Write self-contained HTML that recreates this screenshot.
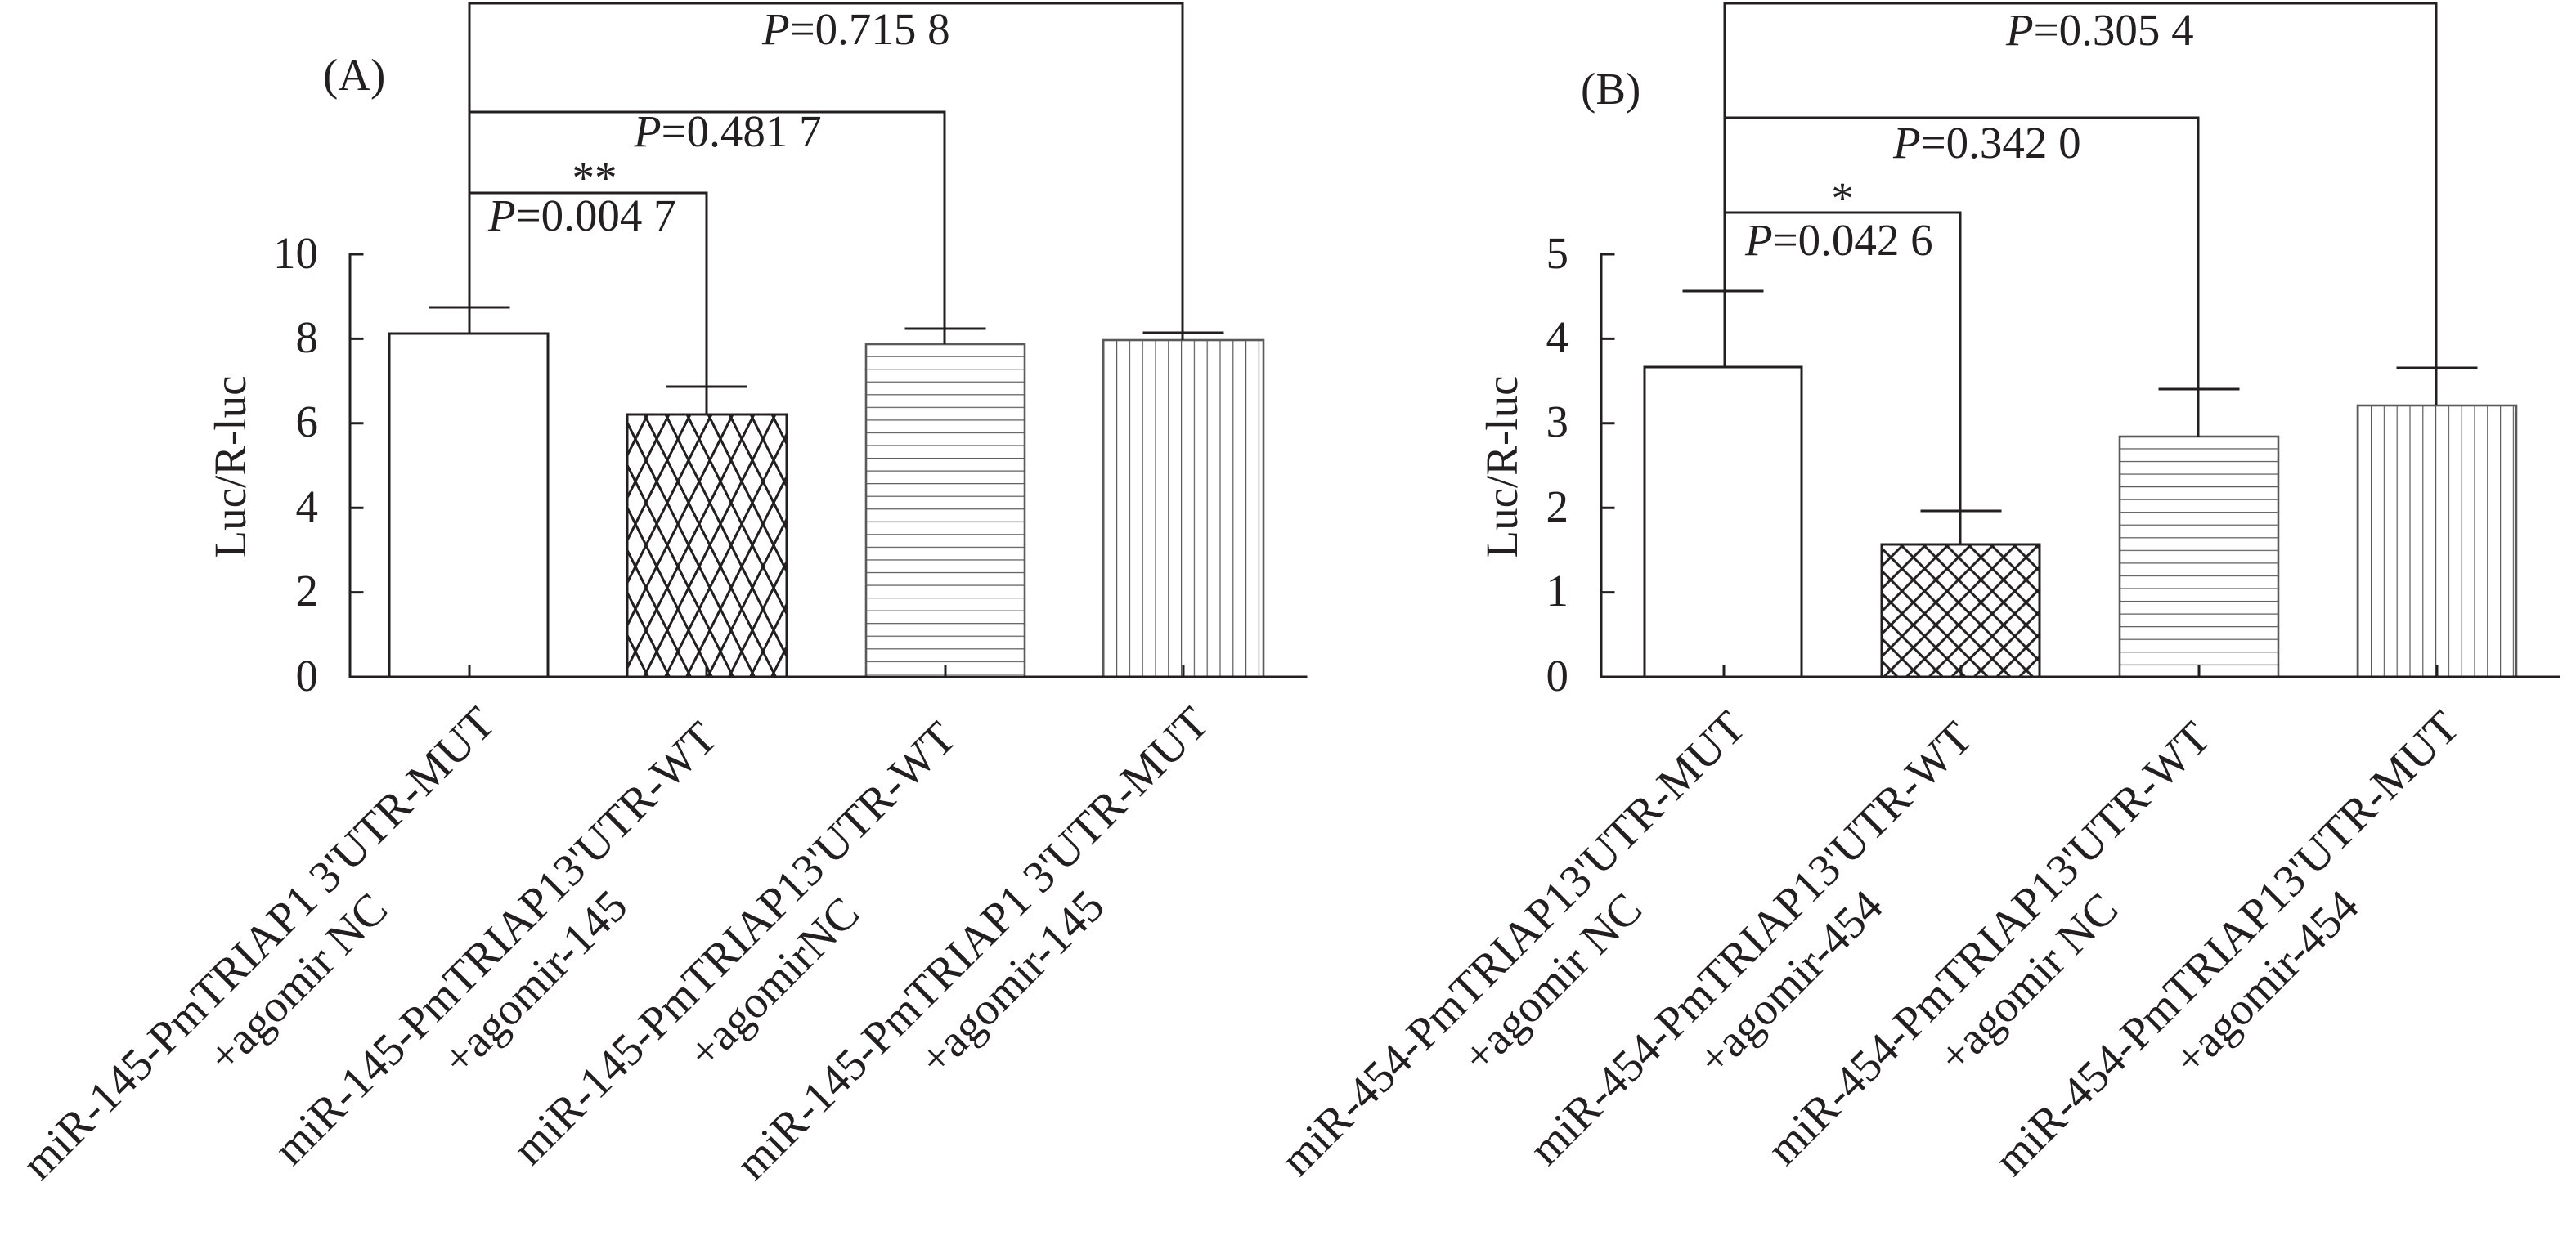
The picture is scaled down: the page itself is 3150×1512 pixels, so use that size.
<!DOCTYPE html>
<html><head><meta charset="utf-8"><style>
html,body{margin:0;padding:0;background:#fff;}
svg{display:block;}
text{font-family:"Liberation Serif","Times New Roman",serif;fill:#231f20;}
</style></head><body>
<svg width="3150" height="1512" viewBox="0 0 3150 1512" xmlns="http://www.w3.org/2000/svg">
<defs>
<pattern id="xa" patternUnits="userSpaceOnUse" x="790" y="563" width="26" height="52">
<path d="M-2,-4 L28,56 M28,-4 L-2,56" stroke="#231f20" stroke-width="3" fill="none"/>
</pattern>
<pattern id="xb" patternUnits="userSpaceOnUse" x="2312" y="681.7" width="27.6" height="27.6">
<path d="M-2,-2 L29.6,29.6 M29.6,-2 L-2,29.6" stroke="#231f20" stroke-width="3" fill="none"/>
</pattern>
<pattern id="ha" patternUnits="userSpaceOnUse" x="0" y="824.3" width="20" height="15.55">
<line x1="-1" y1="0" x2="21" y2="0" stroke="#5a5a5a" stroke-width="2.4"/>
</pattern>
<pattern id="hb" patternUnits="userSpaceOnUse" x="0" y="812.7" width="20" height="15.55">
<line x1="-1" y1="0" x2="21" y2="0" stroke="#5a5a5a" stroke-width="2.4"/>
</pattern>
<pattern id="va" patternUnits="userSpaceOnUse" x="1365" y="0" width="15.8" height="20">
<line x1="0" y1="-1" x2="0" y2="21" stroke="#5a5a5a" stroke-width="2.4"/>
</pattern>
<pattern id="vb" patternUnits="userSpaceOnUse" x="2899" y="0" width="15.8" height="20">
<line x1="0" y1="-1" x2="0" y2="21" stroke="#5a5a5a" stroke-width="2.4"/>
</pattern>
</defs>
<rect x="0" y="0" width="3150" height="1512" fill="#fff"/>

<!-- ================= PANEL A ================= -->
<g stroke="#231f20" stroke-width="3" fill="none">
  <!-- bars -->
  <rect x="476" y="408" width="194" height="420" fill="#fff"/>
  <rect x="767" y="507" width="195" height="321" fill="url(#xa)"/>
</g>
<g stroke="#5a5a5a" stroke-width="2.6">
  <rect x="1059" y="421" width="194" height="407" fill="url(#ha)"/>
  <rect x="1349" y="416" width="196" height="412" fill="url(#va)"/>
</g>
<g stroke="#231f20" stroke-width="3" fill="none" stroke-linecap="square">
  <!-- axes -->
  <line x1="428" y1="311" x2="428" y2="828"/>
  <line x1="428" y1="828" x2="1597" y2="828"/>
  <line x1="428" y1="828" x2="443" y2="828"/>
  <line x1="428" y1="724.6" x2="443" y2="724.6"/>
  <line x1="428" y1="621.2" x2="443" y2="621.2"/>
  <line x1="428" y1="517.8" x2="443" y2="517.8"/>
  <line x1="428" y1="414.4" x2="443" y2="414.4"/>
  <line x1="428" y1="311" x2="443" y2="311"/>
  <!-- x ticks -->
  <line x1="574" y1="815" x2="574" y2="828"/>
  <line x1="864" y1="815" x2="864" y2="828"/>
  <line x1="1156" y1="815" x2="1156" y2="828"/>
  <line x1="1447" y1="815" x2="1447" y2="828"/>
  <!-- error caps -->
  <line x1="526" y1="376" x2="622" y2="376"/>
  <line x1="816" y1="473" x2="912" y2="473"/>
  <line x1="1108" y1="402" x2="1204" y2="402"/>
  <line x1="1399" y1="407" x2="1495" y2="407"/>
  <!-- brackets -->
  <polyline points="574,408 574,4 1446,4 1446,416" stroke-linecap="butt"/>
  <polyline points="574,137 1155,137 1155,421" stroke-linecap="butt"/>
  <polyline points="574,236 864,236 864,507" stroke-linecap="butt"/>
</g>
<g font-size="55">
  <text x="389" y="845" text-anchor="end">0</text>
  <text x="389" y="741" text-anchor="end">2</text>
  <text x="389" y="638" text-anchor="end">4</text>
  <text x="389" y="534" text-anchor="end">6</text>
  <text x="389" y="431" text-anchor="end">8</text>
  <text x="389" y="328" text-anchor="end">10</text>
  <text transform="translate(300,571) rotate(-90)" text-anchor="middle">Luc/R-luc</text>
  <text x="395" y="110">(A)</text>
  <text x="932" y="54"><tspan font-style="italic">P</tspan>=0.715 8</text>
  <text x="775" y="179"><tspan font-style="italic">P</tspan>=0.481 7</text>
  <text x="597" y="282"><tspan font-style="italic">P</tspan>=0.004 7</text>
  <text x="727" y="236" text-anchor="middle">**</text>
</g>
<g font-size="56" text-anchor="middle">
  <g transform="translate(329,1167) rotate(-45)"><text x="0" y="0">miR-145-PmTRIAP1 3'UTR-MUT</text><text x="0" y="68">+agomir NC</text></g>
  <g transform="translate(619,1167) rotate(-45)"><text x="0" y="0">miR-145-PmTRIAP13'UTR-WT</text><text x="0" y="68">+agomir-145</text></g>
  <g transform="translate(911,1167) rotate(-45)"><text x="0" y="0">miR-145-PmTRIAP13'UTR-WT</text><text x="0" y="68">+agomirNC</text></g>
  <g transform="translate(1202,1167) rotate(-45)"><text x="0" y="0">miR-145-PmTRIAP1 3'UTR-MUT</text><text x="0" y="68">+agomir-145</text></g>
</g>

<!-- ================= PANEL B ================= -->
<g stroke="#231f20" stroke-width="3" fill="none">
  <rect x="2011" y="449" width="192" height="379" fill="#fff"/>
  <rect x="2301" y="666" width="193" height="162" fill="url(#xb)"/>
</g>
<g stroke="#5a5a5a" stroke-width="2.6">
  <rect x="2592" y="534" width="194" height="294" fill="url(#hb)"/>
  <rect x="2883" y="496" width="194" height="332" fill="url(#vb)"/>
</g>
<g stroke="#231f20" stroke-width="3" fill="none" stroke-linecap="square">
  <line x1="1958" y1="311" x2="1958" y2="828"/>
  <line x1="1958" y1="828" x2="3129" y2="828"/>
  <line x1="1958" y1="724.6" x2="1973" y2="724.6"/>
  <line x1="1958" y1="621.2" x2="1973" y2="621.2"/>
  <line x1="1958" y1="517.8" x2="1973" y2="517.8"/>
  <line x1="1958" y1="414.4" x2="1973" y2="414.4"/>
  <line x1="1958" y1="311" x2="1973" y2="311"/>
  <line x1="2108" y1="815" x2="2108" y2="828"/>
  <line x1="2398" y1="815" x2="2398" y2="828"/>
  <line x1="2689" y1="815" x2="2689" y2="828"/>
  <line x1="2980" y1="815" x2="2980" y2="828"/>
  <line x1="2059" y1="356" x2="2155" y2="356"/>
  <line x1="2350" y1="625" x2="2446" y2="625"/>
  <line x1="2641" y1="476" x2="2737" y2="476"/>
  <line x1="2932" y1="450" x2="3028" y2="450"/>
  <polyline points="2109,449 2109,4 2979,4 2979,496" stroke-linecap="butt"/>
  <polyline points="2109,144 2688,144 2688,534" stroke-linecap="butt"/>
  <polyline points="2109,260 2397,260 2397,666" stroke-linecap="butt"/>
</g>
<g font-size="55">
  <text x="1918" y="845" text-anchor="end">0</text>
  <text x="1918" y="741" text-anchor="end">1</text>
  <text x="1918" y="638" text-anchor="end">2</text>
  <text x="1918" y="534" text-anchor="end">3</text>
  <text x="1918" y="431" text-anchor="end">4</text>
  <text x="1918" y="328" text-anchor="end">5</text>
  <text transform="translate(1855,571) rotate(-90)" text-anchor="middle">Luc/R-luc</text>
  <text x="1933" y="127">(B)</text>
  <text x="2453" y="55"><tspan font-style="italic">P</tspan>=0.305 4</text>
  <text x="2315" y="193"><tspan font-style="italic">P</tspan>=0.342 0</text>
  <text x="2134" y="312"><tspan font-style="italic">P</tspan>=0.042 6</text>
  <text x="2253" y="261" text-anchor="middle">*</text>
</g>
<g font-size="56" text-anchor="middle">
  <g transform="translate(1863,1167) rotate(-45)"><text x="0" y="0">miR-454-PmTRIAP13'UTR-MUT</text><text x="0" y="68">+agomir NC</text></g>
  <g transform="translate(2154,1167) rotate(-45)"><text x="0" y="0">miR-454-PmTRIAP13'UTR-WT</text><text x="0" y="68">+agomir-454</text></g>
  <g transform="translate(2445,1167) rotate(-45)"><text x="0" y="0">miR-454-PmTRIAP13'UTR-WT</text><text x="0" y="68">+agomir NC</text></g>
  <g transform="translate(2736,1167) rotate(-45)"><text x="0" y="0">miR-454-PmTRIAP13'UTR-MUT</text><text x="0" y="68">+agomir-454</text></g>
</g>
</svg>
</body></html>
